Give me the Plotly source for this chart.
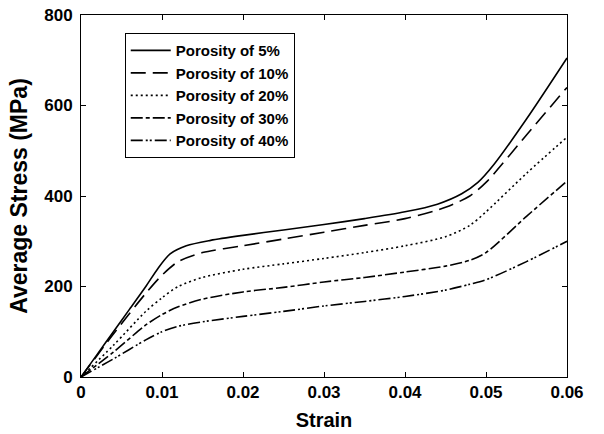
import plotly.graph_objects as go

strain_5 = [0, 0.002, 0.004, 0.006, 0.008, 0.0095, 0.011, 0.013, 0.016, 0.02, 0.025, 0.03, 0.035, 0.04, 0.044, 0.047, 0.049, 0.051, 0.055, 0.06]
stress_5 = [0, 50, 100, 150, 200, 240, 272, 290, 302, 313, 325, 337, 350, 365, 382, 405, 430, 470, 570, 705]

strain_10 = [0, 0.004, 0.008, 0.01, 0.012, 0.015, 0.02, 0.025, 0.03, 0.035, 0.04, 0.045, 0.048, 0.05, 0.055, 0.06]
stress_10 = [0, 95, 185, 225, 255, 275, 290, 305, 320, 335, 350, 375, 400, 430, 535, 640]

strain_20 = [0, 0.004, 0.008, 0.01, 0.012, 0.015, 0.02, 0.025, 0.03, 0.035, 0.04, 0.045, 0.048, 0.05, 0.055, 0.06]
stress_20 = [0, 70, 145, 175, 200, 220, 238, 250, 262, 275, 290, 310, 335, 365, 450, 530]

strain_30 = [0, 0.004, 0.008, 0.01, 0.012, 0.015, 0.02, 0.025, 0.03, 0.035, 0.04, 0.045, 0.048, 0.05, 0.055, 0.06]
stress_30 = [0, 55, 115, 138, 155, 172, 188, 198, 210, 220, 232, 245, 258, 275, 355, 433]

strain_40 = [0, 0.004, 0.008, 0.01, 0.012, 0.015, 0.02, 0.025, 0.03, 0.035, 0.04, 0.045, 0.048, 0.05, 0.055, 0.06]
stress_40 = [0, 40, 82, 100, 112, 122, 134, 145, 157, 167, 178, 192, 205, 215, 255, 300]

names = ["Porosity of 5%", "Porosity of 10%", "Porosity of 20%", "Porosity of 30%", "Porosity of 40%"]
xs = [strain_5, strain_10, strain_20, strain_30, strain_40]
ys = [stress_5, stress_10, stress_20, stress_30, stress_40]
dashes = ["solid", "15px,7px", "2px,3px", "12px,3px,4px,3px", "12px,3px,2px,2px,2px,3px"]

fig = go.Figure()
for n, x, y, d in zip(names, xs, ys, dashes):
    fig.add_trace(go.Scatter(x=x, y=y, name=n, mode="lines",
                             line=dict(color="black", width=1.6, dash=d, shape="spline", smoothing=0.8)))

font = "Liberation Sans, Arial, sans-serif"
fig.update_layout(
    width=604, height=434,
    margin=dict(l=81, r=37, t=15, b=57),
    paper_bgcolor="white", plot_bgcolor="white",
    font=dict(family=font, color="black"),
    showlegend=True,
    legend=dict(x=0.09, y=0.95, xanchor="left", yanchor="top",
                bordercolor="black", borderwidth=1, bgcolor="white",
                font=dict(family=font, size=15, color="black", weight="bold"),
                tracegroupgap=0, itemwidth=40),
)
fig.update_xaxes(range=[0, 0.06], tickvals=[0, 0.01, 0.02, 0.03, 0.04, 0.05, 0.06],
                 ticktext=["0", "0.01", "0.02", "0.03", "0.04", "0.05", "0.06"],
                 ticks="inside", ticklen=5, tickcolor="black", showline=True, linecolor="black",
                 linewidth=1, mirror="ticks", showgrid=False, zeroline=False, automargin=False,
                 tickfont=dict(size=17, weight="bold"),
                 title=dict(text="Strain", font=dict(size=20, weight="bold"), standoff=11))
fig.update_yaxes(range=[0, 800], tickvals=[0, 200, 400, 600, 800],
                 ticks="inside", ticklen=5, tickcolor="black", showline=True, linecolor="black",
                 linewidth=1, mirror="ticks", showgrid=False, zeroline=False, automargin=False,
                 ticklabelstandoff=4,
                 tickfont=dict(size=17, weight="bold"),
                 title=dict(text="Average Stress (MPa)", font=dict(size=23, weight="bold"), standoff=10))

fig.write_html("out.html", config={"displayModeBar": False},
               post_script="document.body.style.margin='0';")
